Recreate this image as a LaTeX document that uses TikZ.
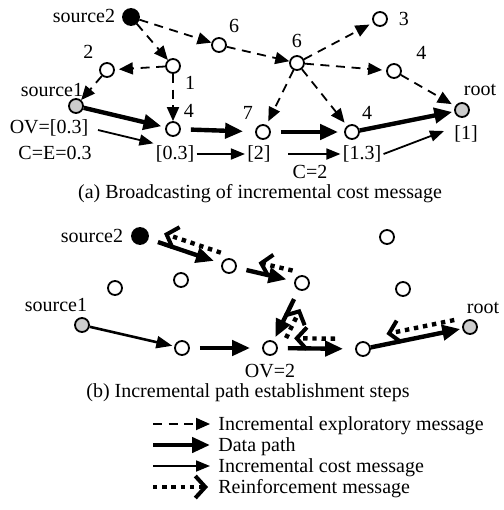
\documentclass[tikz,border=0pt]{standalone}
\usepackage{fontspec}
\setmainfont{Liberation Serif}
\usetikzlibrary{arrows.meta,calc}

\begin{document}
\begin{tikzpicture}[x=0.5pt,y=-0.5pt,font=\fontsize{10}{11}\selectfont,
  sensor/.style={draw,circle,line width=0.9pt,minimum size=7pt,inner sep=0pt,fill=white},
  sinknode/.style={sensor,fill=gray!40},
  srcnode/.style={sensor,fill=black,minimum size=8pt},
  txt/.style={inner sep=1pt},
  explore/.style={line width=0.9pt,dash pattern=on 4.5pt off 3.3pt,-{Triangle[length=7pt,width=6pt]}},
  datapath/.style={line width=2.2pt,-{Triangle[length=9pt,width=7.5pt]}},
  datathin/.style={line width=1.3pt,-{Triangle[length=8pt,width=6pt]}},
  cost/.style={line width=0.9pt,-{Triangle[length=7pt,width=5.5pt]}},
  reinf/.style={line width=2.2pt,dash pattern=on 2.2pt off 2.4pt,-{Straight Barb[length=5pt,width=11pt,line width=2pt]}}]
  \useasboundingbox (0,0) rectangle (504,510);

  % (a) broadcasting
  \node[srcnode] (s2a) at (131,17) {};
  \node[txt] (s2atxt) at (84,16) {source2};
  \node[sensor,label={[label distance=-1pt]-30:1}] (n1a) at (173,66) {};
  \node[sensor,label={[label distance=0pt]145:2}] (n2a) at (107,70) {};
  \node[sinknode] (s1a) at (76,106) {};
  \node[txt] (s1atxt) at (52,90) {source1};
  \node[sensor,label={[label distance=-1pt]50:4}] (n4a) at (173,129) {};
  \node[sensor,label={[label distance=-1pt]60:6}] (n6a) at (219,45) {};
  \node[sensor,label={[label distance=0pt]90:6}] (n6b) at (297,63) {};
  \node[sensor,label={[label distance=2pt]0:3}] (n3a) at (380,19) {};
  \node[sensor,label={[label distance=4pt]15:4}] (n4b) at (394,71) {};
  \node[sinknode] (roota) at (462,110) {};
  \node[txt] (rootatxt) at (480,90) {root};
  \node[sensor,label={[label distance=-1pt]120:7}] (n7a) at (263,132) {};
  \node[sensor,label={[label distance=-1pt]60:4}] (n4c) at (352,132) {};

  \draw[explore] (s2a) -- (n1a);
  \draw[explore] (s2a) -- (n6a);
  \draw[explore,shorten >=2pt] (n1a) -- (n2a);
  \draw[explore] (n2a) -- (s1a);
  \draw[explore] (n1a) -- (n4a);
  \draw[explore] (n6a) -- (n6b);
  \draw[explore,shorten >=2pt] (n6b) -- (n3a);
  \draw[explore,shorten >=2pt] (n6b) -- (n4b);
  \draw[explore,shorten >=2pt] (n6b) -- (n7a);
  \draw[explore,shorten >=2pt] (n6b) -- (n4c);
  \draw[explore,shorten >=2pt] (n4b) -- (roota);

  \draw[datapath,shorten >=2pt] (s1a) -- (n4a);
  \draw[datapath,shorten <=5pt,shorten >=6pt] (n4a) -- (n7a);
  \draw[datapath,shorten <=5pt,shorten >=3pt] (n7a) -- (n4c);
  \draw[datapath,shorten >=1pt] (n4c) -- (roota);

  % cost values
  \node[txt] (ova) at (49,128) {OV=[0.3]};
  \node[txt] (cea) at (55,153) {C=E=0.3};
  \node[txt] (c03) at (175,154) {[0.3]};
  \node[txt] (c2) at (259,154) {[2]};
  \node[txt] (c13) at (362,154) {[1.3]};
  \node[txt] (c1) at (466,134) {[1]};
  \node[txt] (cc2) at (310,172) {C=2};
  \coordinate (ovs) at (98,130);
  \coordinate (c3s) at (288,154);
  \coordinate (c4e) at (444,131);
  \draw[cost] (ovs) -- (c03.north west);
  \draw[cost] (c03.east) -- (c2.west);
  \draw[cost] (c3s) -- (c13.west);
  \draw[cost] (c13.east) -- (c4e);

  \node[txt] (capa) at (260,194) {(a) Broadcasting of incremental cost message};

  % (b) path establishment
  \node[srcnode] (s2b) at (140,236) {};
  \node[txt] (s2btxt) at (92,236) {source2};
  \node[sensor] (nAb) at (229,266) {};
  \node[sensor] (nBb) at (302,283) {};
  \node[sensor] (nCb) at (270,348) {};
  \node[sensor] (nDb) at (182,348) {};
  \node[sinknode] (s1b) at (82,325) {};
  \node[txt] (s1btxt) at (56,305) {source1};
  \node[sensor] (nGb) at (363,349) {};
  \node[sinknode] (rootb) at (470,327) {};
  \node[txt] (rootbtxt) at (483,308) {root};
  \node[sensor] (iso1) at (115,288) {};
  \node[sensor] (iso2) at (181,280) {};
  \node[sensor] (iso3) at (387,237) {};
  \node[sensor] (iso4) at (403,289) {};
  \node[txt] (ovb) at (270,371) {OV=2};

  \draw[datapath,shorten <=5pt,shorten >=4pt] (s2b) -- (nAb);
  \draw[datapath,shorten <=5pt,shorten >=4pt] (nAb) -- (nBb);
  \draw[datapath,shorten <=5pt,shorten >=2pt] (nBb) -- (nCb);
  \draw[datathin,shorten >=1pt] (s1b) -- (nDb);
  \draw[datapath,shorten <=5pt,shorten >=6pt] (nDb) -- (nCb);
  \draw[datapath,shorten <=5pt,shorten >=6pt] (nCb) -- (nGb);
  \draw[datapath,shorten >=1pt] (nGb) -- (rootb);

  \draw[reinf,shorten <=7pt,shorten >=13pt] ($(rootb)!5pt!-90:(nGb)$) -- ($(nGb)!5pt!90:(rootb)$);
  \draw[reinf,shorten <=14pt,shorten >=12pt] ($(nGb)!5pt!-90:(nCb)$) -- ($(nCb)!5pt!90:(nGb)$);
  \draw[reinf,shorten <=8pt,shorten >=12pt] ($(nCb)!5pt!-90:(nBb)$) -- ($(nBb)!5pt!90:(nCb)$);
  \draw[reinf,shorten <=6pt,shorten >=14pt] ($(nBb)!5pt!-90:(nAb)$) -- ($(nAb)!5pt!90:(nBb)$);
  \draw[reinf,shorten <=6pt,shorten >=11pt] ($(nAb)!5pt!-90:(s2b)$) -- ($(s2b)!5pt!90:(nAb)$);

  \node[txt] (capb) at (248,393) {(b) Incremental path establishment steps};

  % legend
  \node[txt,anchor=west] (lt1) at (216,426) {Incremental exploratory message};
  \node[txt,anchor=west] (lt2) at (216,447) {Data path};
  \node[txt,anchor=west] (lt3) at (216,468) {Incremental cost message};
  \node[txt,anchor=west] (lt4) at (216,489) {Reinforcement message};
  \coordinate (le1) at (153,424);
  \coordinate (le2) at (153,445);
  \coordinate (le3) at (153,466);
  \coordinate (le4) at (153,487);
  \draw[explore,shorten >=3pt] (le1) -- (lt1.west |- le1);
  \draw[datapath,shorten >=3pt] (le2) -- (lt2.west |- le2);
  \draw[cost,shorten >=3pt] (le3) -- (lt3.west |- le3);
  \draw[reinf,shorten >=4pt] (le4) -- (lt4.west |- le4);
\end{tikzpicture}
\end{document}
